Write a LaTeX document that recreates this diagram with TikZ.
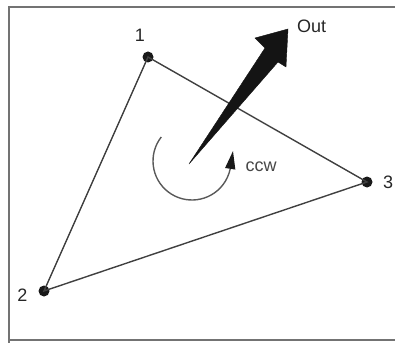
\documentclass[tikz,border=0pt]{standalone}
\usepackage{fontspec}
\setmainfont{Liberation Sans}
\usetikzlibrary{arrows.meta,calc}
\begin{document}
\begin{tikzpicture}[x=1pt,y=1pt,
  frameline/.style={draw=black!55,line width=2pt},
  edge/.style={draw=black!75,line width=1.4pt},
  vertex/.style={circle,fill=black!90,inner sep=0pt,minimum size=11pt},
  lbl/.style={text=black!85,inner sep=0pt,font=\fontsize{18}{21}\selectfont},
  bigarrow/.style={fill=black!92,draw=black!92,line width=0.4pt,line join=miter},
  turn/.style={draw=black!65,line width=1.4pt,-{Triangle[length=18pt,width=10pt,color=black!90]}}]
\useasboundingbox (0,0) rectangle (395,343);
% frame
\coordinate (ftr) at (395,335.5);
\coordinate (ftl) at (9,335.5);
\coordinate (fbl) at (9,0);
\coordinate (fbb) at (9,3);
\coordinate (fbr) at (395,3);
\draw[frameline] (ftr) -- (ftl) -- (fbl);
\draw[frameline] (fbb) -- (fbr);
% vertices
\node[vertex] (p1) at (148,286) {};
\node[vertex] (p2) at (44,52) {};
\node[vertex] (p3) at (367,161) {};
\draw[edge] (p1.center) -- (p2.center) -- (p3.center) -- cycle;
% labels
\node[lbl] (l1) at (140,308) {1};
\node[lbl] (l2) at (22.5,48) {2};
\node[lbl] (l3) at (388,161) {3};
\node[lbl] (lout) at (311.5,317) {Out};
\node[lbl,text=black!72] (lccw) at (261,176) {ccw};
% big arrow
\coordinate (tail) at (189,179);
\coordinate (lneck) at (265,295);
\coordinate (lbarb) at (255,305);
\coordinate (tip) at (288,314);
\coordinate (rbarb) at (286,276);
\coordinate (rneck) at (278,281);
\filldraw[bigarrow] (tail) -- (lneck) -- (lbarb) -- (tip) -- (rbarb) -- (rneck) -- cycle;
% curved arrow
\coordinate (cstart) at ($(192,182)+(142:39)$);
\coordinate (ctip) at (233,192);
\draw[turn] (cstart) arc[start angle=142,end angle=348,radius=39] -- (ctip);
\end{tikzpicture}
\end{document}
